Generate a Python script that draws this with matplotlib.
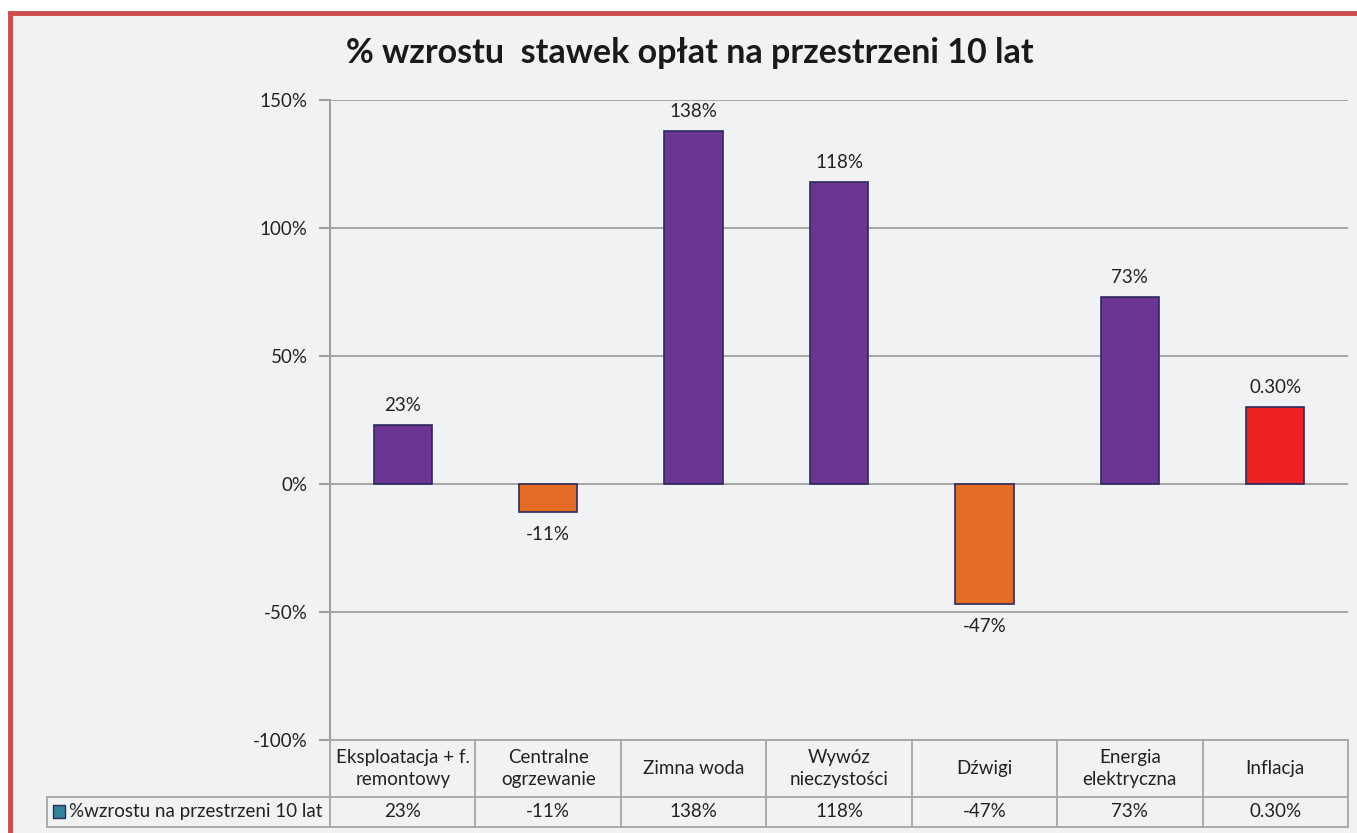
import numpy as np
import matplotlib.pyplot as plt

plt.rcParams.update({
    "font.family": ["Lato", "DejaVu Sans"],
    "font.size": 13.5,
})

categories = ["Eksploatacja + f.\nremontowy", "Centralne\nogrzewanie", "Zimna woda",
              "Wywóz\nnieczystości", "Dźwigi", "Energia\nelektryczna", "Inflacja"]
values = [0.23, -0.11, 1.38, 1.18, -0.47, 0.73, 0.30]
value_labels = ["23%", "-11%", "138%", "118%", "-47%", "73%", "0.30%"]
bar_colors = ["#6b3594", "#e46c25", "#6b3594", "#6b3594", "#e46c25", "#6b3594", "#ee2124"]
yticks = [-1.0, -0.5, 0.0, 0.5, 1.0, 1.5]
ytick_labels = ["-100%", "-50%", "0%", "50%", "100%", "150%"]
series_name = "%wzrostu na przestrzeni 10 lat"
title = "% wzrostu  stawek opłat na przestrzeni 10 lat"

W, H = 1357, 833
bg = "#f1f2f4"
grid_c = "#a0a0a0"

fig = plt.figure(figsize=(W / 100, H / 100), dpi=100)
fig.patch.set_facecolor("white")

# background panel with red border (only left and top visible)
panel = plt.Rectangle((10 / W, -0.1), 1.2, (H - 13) / H + 0.1, transform=fig.transFigure,
                      facecolor=bg, edgecolor="#cc4b4b", linewidth=3.5, zorder=-10)
fig.patches.append(panel)

def px(x0, y0, x1, y1):
    return [x0 / W, 1 - y1 / H, (x1 - x0) / W, (y1 - y0) / H]

ax = fig.add_axes(px(330, 100, 1348, 740))
ax.set_facecolor("none")
n = len(categories)
x = np.arange(n) + 0.5
ax.bar(x, values, width=0.4, color=bar_colors, edgecolor="#2b2b5e", linewidth=1.2, zorder=3)
ax.set_xlim(0, n)
ax.set_ylim(-1.0, 1.5)
ax.set_yticks(yticks)
ax.set_yticklabels(ytick_labels, color="#222222")
ax.set_xticks([])
ax.tick_params(axis="y", length=8, color=grid_c, width=1.5, pad=8)
ax.grid(axis="y", color=grid_c, linewidth=1.3, zorder=0)
for s in ["top", "right", "bottom"]:
    ax.spines[s].set_visible(False)
ax.spines["left"].set_color(grid_c)
ax.spines["left"].set_linewidth(1.5)

for xi, v, lab in zip(x, values, value_labels):
    if v >= 0:
        ax.annotate(lab, (xi, v), xytext=(0, 8), textcoords="offset points",
                    ha="center", va="bottom", color="#222222")
    else:
        ax.annotate(lab, (xi, v), xytext=(0, -10), textcoords="offset points",
                    ha="center", va="top", color="#222222")

fig.text(690 / W, 1 - 53 / H, title, ha="center", va="center",
         fontsize=24.5, fontweight="bold", color="#1a1a1a")

# data table below the axis
tab = fig.add_axes(px(47, 740, 1348, 828))
tab.set_xlim(47, 1348)
tab.set_ylim(828, 740)
tab.axis("off")
cw = (1348 - 330) / n
lc = "#a6a6a6"
tab.plot([330, 1348], [740, 740], color=lc, lw=1.3, clip_on=False)
tab.plot([47, 1348], [797, 797], color=lc, lw=1.3, clip_on=False)
tab.plot([47, 1348], [827, 827], color=lc, lw=1.3, clip_on=False)
tab.plot([47, 47], [797, 827], color=lc, lw=1.3, clip_on=False)
for i in range(n + 1):
    xb = 330 + i * cw
    tab.plot([xb, xb], [740, 827], color=lc, lw=1.3, clip_on=False)
for i, (c, lab) in enumerate(zip(categories, value_labels)):
    xc = 330 + (i + 0.5) * cw
    tab.text(xc, 768.5, c, ha="center", va="center", color="#222222", linespacing=1.4)
    tab.text(xc, 812, lab, ha="center", va="center", color="#222222")
tab.add_patch(plt.Rectangle((53, 805), 12, 13, facecolor="#31859c", edgecolor="#2b2b5e", lw=1))
tab.text(69, 812, series_name, ha="left", va="center", color="#222222")

fig.savefig("out.png", dpi=100, facecolor=fig.get_facecolor())
